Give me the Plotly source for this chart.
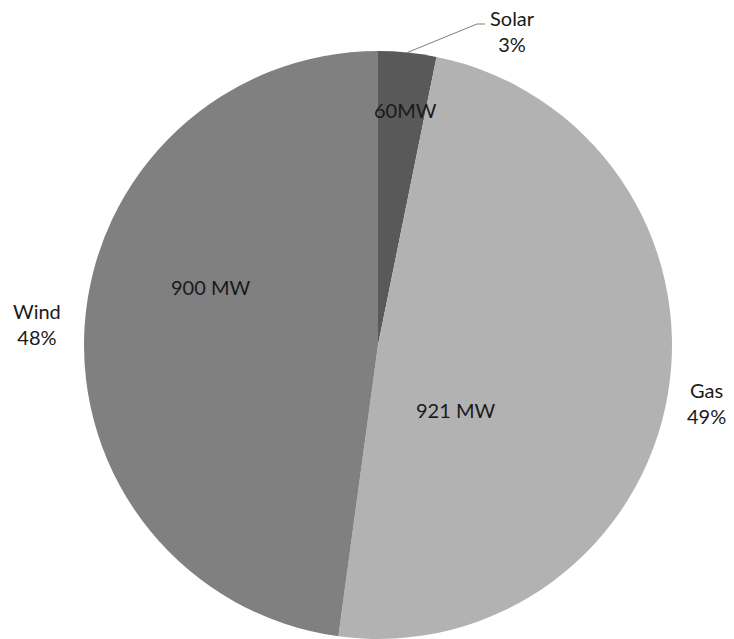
import math
import plotly.graph_objects as go

# Installed capacity by source
sources = ["Solar", "Gas", "Wind"]
capacity_mw = [60, 921, 900]
inside_text = ["60MW", "921 MW", "900 MW"]
colors = ["#595959", "#b2b2b2", "#808080"]

W, H = 734, 639
cx, cy, r = 378, 345, 294  # pie centre and radius in pixels

total = sum(capacity_mw)
pct = [round(100 * v / total) for v in capacity_mw]


def px(x, y):
    """Pixel position -> paper coordinates."""
    return x / W, 1 - y / H


fig = go.Figure(
    go.Pie(
        labels=sources,
        values=capacity_mw,
        sort=False,
        direction="clockwise",
        rotation=0,
        marker=dict(colors=colors, line=dict(width=0)),
        textinfo="none",
        hoverinfo="label+value+percent",
        showlegend=False,
        domain=dict(x=[(cx - r) / W, (cx + r) / W], y=[(H - cy - r) / H, (H - cy + r) / H]),
    )
)

font = dict(family="Lato, 'Open Sans', sans-serif", size=20, color="#1a1a1a")

# label placement (pixels) for the value text inside and category text outside
inside_pos = {"Solar": (405, 110), "Gas": (455, 410), "Wind": (210, 287)}
outside_pos = {"Solar": (512, 31), "Gas": (706, 403), "Wind": (37, 324)}

annotations = []
for name, txt, p in zip(sources, inside_text, pct):
    x, y = px(*inside_pos[name])
    annotations.append(dict(x=x, y=y, xref="paper", yref="paper", text=txt,
                            showarrow=False, font=font, xanchor="center", yanchor="middle"))
    x, y = px(*outside_pos[name])
    annotations.append(dict(x=x, y=y, xref="paper", yref="paper", text=f"{name}<br>{p}%",
                            showarrow=False, font=font, xanchor="center", yanchor="middle",
                            align="center"))

# leader line from the middle of the Solar slice edge to its label
mid = 0.5 * capacity_mw[0] / total * 2 * math.pi
sx, sy = cx + r * math.sin(mid), cy - r * math.cos(mid)
pts = [px(sx, sy), px(477, 24), px(485, 24)]
path = "M {} {} L {} {} L {} {}".format(*[c for p in pts for c in p])
shapes = [dict(type="path", xref="paper", yref="paper", path=path,
               line=dict(color="#7f7f7f", width=1))]

fig.update_layout(
    width=W, height=H,
    margin=dict(l=0, r=0, t=0, b=0),
    paper_bgcolor="white",
    plot_bgcolor="white",
    annotations=annotations,
    shapes=shapes,
)

fig.write_html("out.html")
